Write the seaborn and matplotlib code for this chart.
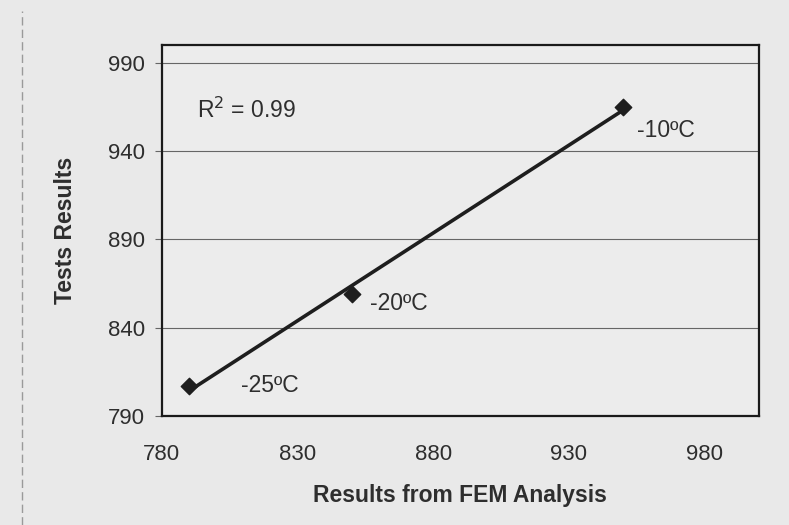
import matplotlib
matplotlib.use("Agg")
import matplotlib.pyplot as plt
import seaborn as sns
import pandas as pd
from matplotlib.lines import Line2D

# Data
fem_results = [790, 850, 950]
test_results = [807, 859, 965]
temp_labels = ["-25ºC", "-20ºC", "-10ºC"]
x_ticks = [780, 830, 880, 930, 980]
y_ticks = [790, 840, 890, 940, 990]
r2_text = "R$^2$ = 0.99"

df = pd.DataFrame({"FEM": fem_results, "Test": test_results, "Label": temp_labels})

sns.set_theme(style="white")
plt.rcParams["font.family"] = ["Liberation Sans", "DejaVu Sans"]

paper = "#e9e9e9"
ink = "#1e1e1e"
txt = "#2e2e2e"

fig = plt.figure(figsize=(7.89, 5.25), dpi=100, facecolor=paper)
ax = fig.add_axes([0.205, 0.208, 0.757, 0.706])
ax.set_facecolor("#ececec")

sns.regplot(data=df, x="FEM", y="Test", ax=ax, ci=None, marker="D",
            scatter_kws={"s": 70, "color": ink, "alpha": 1.0,
                         "edgecolors": ink, "zorder": 3},
            line_kws={"color": ink, "lw": 2.6, "zorder": 2})

ax.set_xlim(780, 1000)
ax.set_ylim(790, 1000)
ax.set_xticks(x_ticks)
ax.set_yticks(y_ticks)

for y in y_ticks[1:]:
    ax.axhline(y, color="#666666", lw=0.8, zorder=1)

for s in ax.spines.values():
    s.set_color("#1a1a1a")
    s.set_linewidth(1.6)

ax.tick_params(axis="y", which="major", left=True, length=5, width=0.8,
               color="#666666", labelsize=16, labelcolor=txt, pad=7)
ax.tick_params(axis="x", which="major", bottom=False, labelsize=16,
               labelcolor=txt, pad=14)

ax.set_xlabel("Results from FEM Analysis", fontsize=16.5, fontweight="bold",
              color=txt, labelpad=14)
ax.set_ylabel("Tests Results", fontsize=16.5, fontweight="bold",
              color=txt, labelpad=22)

offsets = [(52, 0), (18, -9), (14, -24)]
for xv, yv, lab, off in zip(fem_results, test_results, temp_labels, offsets):
    ax.annotate(lab, (xv, yv), xytext=off, textcoords="offset pixels",
                ha="left", va="center", fontsize=16.5, color=txt)

ax.text(0.059, 0.825, r2_text, transform=ax.transAxes, ha="left", va="center",
        fontsize=16.5, color=txt)

# faint scan edge line on the left
fig.add_artist(Line2D([0.028, 0.028], [0.0, 0.98], transform=fig.transFigure,
                      color="#9a9a9a", lw=1.0, ls=(0, (6, 3))))

fig.savefig("out.png", dpi=100, facecolor=paper)
